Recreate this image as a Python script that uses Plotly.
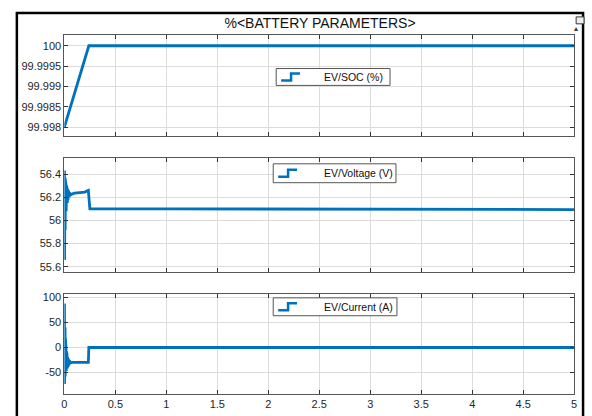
import plotly.graph_objects as go

# ---- data ----
soc_t = [0.0, 0.24, 1.0, 2.0, 3.0, 4.0, 5.0]
soc_v = [99.998, 100.0, 100.0, 100.0, 100.0, 100.0, 100.0]

volt_t = [0.0, 0.001, 0.002, 0.003, 0.004, 0.005, 0.006, 0.007, 0.008, 0.009,
          0.010, 0.012, 0.014, 0.016, 0.018, 0.020, 0.023, 0.026, 0.029, 0.032,
          0.036, 0.040, 0.045, 0.050, 0.060, 0.080, 0.100, 0.150, 0.200, 0.235,
          0.245, 0.250, 1.0, 2.0, 3.0, 4.0, 5.0]
volt_v = [56.00, 56.43, 55.66, 56.41, 55.75, 56.39, 55.85, 56.37, 55.92, 56.35,
          55.98, 56.33, 56.04, 56.31, 56.08, 56.30, 56.12, 56.28, 56.15, 56.27,
          56.18, 56.26, 56.20, 56.24, 56.22, 56.23, 56.235, 56.24, 56.245, 56.26,
          56.10, 56.10, 56.10, 56.10, 56.098, 56.096, 56.094]

curr_t = [0.0, 0.001, 0.002, 0.003, 0.004, 0.005, 0.006, 0.007, 0.008, 0.009,
          0.010, 0.012, 0.014, 0.016, 0.018, 0.020, 0.023, 0.026, 0.029, 0.032,
          0.036, 0.040, 0.045, 0.050, 0.060, 0.080, 0.100, 0.150, 0.200, 0.235,
          0.240, 0.250, 1.0, 2.0, 3.0, 4.0, 5.0]
curr_v = [0.0, 88.0, -73.0, 80.0, -68.0, 60.0, -62.0, 40.0, -58.0, 20.0,
          -55.0, 10.0, -50.0, 0.0, -47.0, -8.0, -44.0, -14.0, -42.0, -19.0,
          -39.0, -23.0, -36.0, -26.0, -31.0, -30.0, -30.0, -30.0, -30.0, -30.0,
          0.0, 0.0, 0.0, 0.0, 0.0, 0.0, 0.0]

x_ticks = [0, 0.5, 1, 1.5, 2, 2.5, 3, 3.5, 4, 4.5, 5]
x_labels = ["0", "0.5", "1", "1.5", "2", "2.5", "3", "3.5", "4", "4.5", "5"]
soc_ticks = [99.998, 99.9985, 99.999, 99.9995, 100]
soc_labels = ["99.998", "99.9985", "99.999", "99.9995", "100"]
volt_ticks = [55.6, 55.8, 56.0, 56.2, 56.4]
volt_labels = ["55.6", "55.8", "56", "56.2", "56.4"]
curr_ticks = [-50, 0, 50, 100]
curr_labels = ["-50", "0", "50", "100"]

names = ["EV/SOC (%)", "EV/Voltage (V)", "EV/Current (A)"]
title = "%<BATTERY PARAMETERS>"

BLUE = "#0072BD"
W, H = 592, 416
FONT = "Liberation Sans, Arial, sans-serif"

def px(x):
    return x / W

def py(y):
    return 1 - y / H

fig = go.Figure()
fig.add_trace(go.Scatter(x=soc_t, y=soc_v, mode="lines", name=names[0],
                         line=dict(color=BLUE, width=2.8), xaxis="x", yaxis="y"))
fig.add_trace(go.Scatter(x=volt_t, y=volt_v, mode="lines", name=names[1],
                         line=dict(color=BLUE, width=2.8), xaxis="x2", yaxis="y2"))
fig.add_trace(go.Scatter(x=curr_t, y=curr_v, mode="lines", name=names[2],
                         line=dict(color=BLUE, width=2.8), xaxis="x3", yaxis="y3"))

xdom = [px(62), px(577)]
def ydom(top, bot):
    return [py(bot), py(top)]

common_x = dict(range=[0, 5], tickvals=x_ticks, ticktext=x_labels, showgrid=True,
                gridcolor="#dcdcdc", gridwidth=1, zeroline=False, showline=True,
                linecolor="#555555", linewidth=1, mirror="ticks", ticks="inside",
                ticklen=4, tickcolor="#333333", domain=xdom,
                tickfont=dict(family=FONT, size=11, color="#262626"))
common_y = dict(showgrid=True, gridcolor="#dcdcdc", gridwidth=1, zeroline=False,
                showline=True, linecolor="#555555", linewidth=1, mirror="ticks",
                ticks="inside", ticklen=4, tickcolor="#333333",
                tickfont=dict(family=FONT, size=11, color="#262626"))

fig.update_layout(
    width=W, height=H, margin=dict(l=0, r=0, t=0, b=0),
    paper_bgcolor="white", plot_bgcolor="white", showlegend=False,
    xaxis=dict(common_x, showticklabels=False, anchor="y"),
    xaxis2=dict(common_x, showticklabels=False, anchor="y2"),
    xaxis3=dict(common_x, showticklabels=True, anchor="y3"),
    yaxis=dict(common_y, range=[99.99778, 100.00027], tickvals=soc_ticks,
               ticktext=soc_labels, domain=ydom(33, 135), anchor="x"),
    yaxis2=dict(common_y, range=[55.555, 56.54], tickvals=volt_ticks,
                ticktext=volt_labels, domain=ydom(157, 272), anchor="x2"),
    yaxis3=dict(common_y, range=[-93.5, 107.5], tickvals=curr_ticks,
                ticktext=curr_labels, domain=ydom(294, 395), anchor="x3"),
    title=dict(text=title, x=px(320), xanchor="center", y=py(23), yanchor="middle",
               font=dict(family=FONT, size=14, color="#111111")),
)

# legend boxes drawn as shapes + real text (MATLAB style, with step icon)
legend_boxes = [(276, 391, 67, 84), (273, 397, 163, 182), (273, 398, 298, 316)]
for (x0, x1, y0, y1), name in zip(legend_boxes, names):
    fig.add_shape(type="rect", xref="paper", yref="paper", x0=px(x0), x1=px(x1),
                  y0=py(y1), y1=py(y0), line=dict(color="#555555", width=1),
                  fillcolor="white", layer="above")
    cy = (y0 + y1) / 2
    sx = x0 + 5
    path = "M {a},{b} L {c},{b} L {c},{d} L {e},{d}".format(
        a=px(sx), b=py(cy + 3.5), c=px(sx + 10), d=py(cy - 3.5), e=px(sx + 19))
    fig.add_shape(type="path", xref="paper", yref="paper", path=path,
                  line=dict(color=BLUE, width=2.5), layer="above")
    fig.add_annotation(x=px(322), y=py(cy), xref="paper", yref="paper",
                       text=name, showarrow=False, xanchor="left", yanchor="middle",
                       font=dict(family=FONT, size=10.5, color="#111111"))

# outer black frame and the small dock icon
fig.add_shape(type="rect", xref="paper", yref="paper", x0=px(14), x1=px(586),
              y0=-0.05, y1=py(11), line=dict(color="black", width=2.5))
fig.add_shape(type="rect", xref="paper", yref="paper", x0=px(579), x1=px(587),
              y0=py(22), y1=py(15), line=dict(color="#333333", width=1),
              fillcolor="#eeeeee")
fig.add_annotation(x=px(583), y=py(18.5), xref="paper", yref="paper",
                   text="▴", showarrow=False, font=dict(size=8, color="#333333"))

fig.write_html("out.html")
